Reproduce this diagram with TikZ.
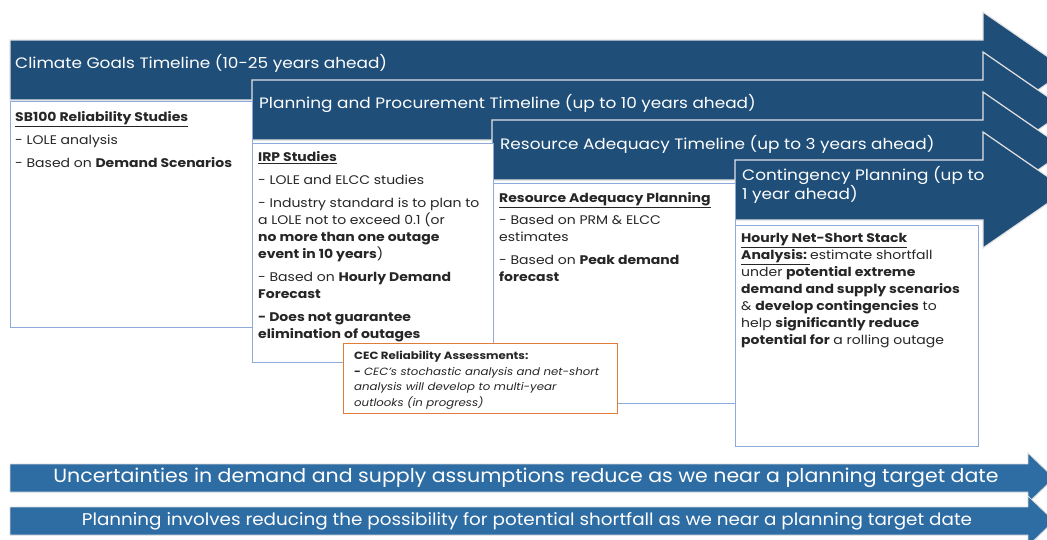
\documentclass[tikz,border=0pt]{standalone}
\usepackage{fontspec}
\setmainfont{Poppins}[FakeStretch=1.12]
\newfontfamily\narrowfont[FakeStretch=1.08]{Poppins}
\definecolor{navy}{HTML}{1F4E79}
\definecolor{steel}{HTML}{2E6CA4}
\definecolor{boxline}{HTML}{8EA9DB}
\definecolor{cecline}{HTML}{E07B39}
\definecolor{ink}{HTML}{262626}

\begin{document}
\begin{tikzpicture}
[x=1pt,y=-1pt,%
  timeline/.style={fill=navy,draw=white!78!gray,line width=1.2pt},%
  target/.style={fill=steel,draw=white!70!gray,line width=0.8pt},%
  headtext/.style={text=white,anchor=west,inner sep=0pt,align=left,font=\fontsize{15.1}{18}\selectfont},%
  studybox/.style={fill=white,draw=boxline,line width=1pt},%
  studytext/.style={text=ink,anchor=north west,inner sep=0pt,align=left,font=\fontsize{12.5}{17}\selectfont}]
\useasboundingbox (0,0) rectangle (1047,539);
\clip (0,0) rectangle (1047,539);

% timeline arrows, longest first
\foreach \l/\t in {10/40,252/80,492/120,735/160}
  \draw[timeline] (\l,\t) -- (983,\t) -- (983,\t-28) -- (1067,\t+30)
    -- (983,\t+88) -- (983,\t+60) -- (\l,\t+60) -- cycle;
\node[headtext] (climate) at (15,63) {Climate Goals Timeline (10-25 years ahead)};
\node[headtext] (procure) at (259,103) {Planning and Procurement Timeline (up to 10 years ahead)};
\node[headtext] (adequacy) at (500,144) {Resource Adequacy Timeline (up to 3 years ahead)};
\node[headtext] (contingency) at (742,185) {Contingency Planning (up to\\1 year ahead)};

% study boxes
\draw[studybox] (10,101) rectangle (252,327);
\draw[studybox] (252,143) rectangle (493,362);
\draw[studybox] (493,183) rectangle (735,403);
\draw[studybox] (735,225) rectangle (978,446);

\node[studytext] (sb100) at (15,111) {%
  \textbf{\underline{SB100 Reliability Studies}}\\[6pt]
  - LOLE analysis\\[6pt]
  - Based on \textbf{Demand Scenarios}};
\node[studytext] (irp) at (258,151) {%
  \textbf{\underline{IRP Studies}}\\[6pt]
  - LOLE and ELCC studies\\[6pt]
  - Industry standard is to plan to\\
  a LOLE not to exceed 0.1 (or\\
  \textbf{no more than one outage}\\
  \textbf{event in 10 years})\\[6pt]
  - Based on \textbf{Hourly Demand}\\
  \textbf{Forecast}\\[6pt]
  \textbf{- Does not guarantee}\\
  \textbf{elimination of outages}};
\node[studytext] (raplan) at (499,192) {%
  \textbf{\underline{Resource Adequacy Planning}}\\[5pt]
  - Based on PRM \& ELCC\\
  estimates\\[6pt]
  - Based on \textbf{Peak demand}\\
  \textbf{forecast}};
\node[studytext] (netshort) at (741,233) {%
  \textbf{\underline{Hourly Net-Short Stack}}\\
  \textbf{\underline{Analysis:\ }}estimate shortfall\\
  under \textbf{potential extreme}\\
  \textbf{demand and supply scenarios}\\
  \& \textbf{develop contingencies} to\\
  help \textbf{significantly reduce}\\
  \textbf{potential for} a rolling outage};

% CEC note on top
\draw[fill=white,draw=cecline,line width=1pt] (343,343) rectangle (617,413);
\node[studytext,font=\fontsize{10.5}{15.5}\selectfont] (cec) at (354,351) {%
  \textbf{CEC Reliability Assessments:}\\
  \textbf{-} \textit{CEC's stochastic analysis and net-short}\\
  \textit{analysis will develop to multi-year}\\
  \textit{outlooks (in progress)}};

% target date arrows
\draw[target] (10,464) -- (1028,464) -- (1028,453) -- (1054,478)
  -- (1028,503) -- (1028,492) -- (10,492) -- cycle;
\draw[target] (10,507) -- (1028,507) -- (1028,496) -- (1054,521)
  -- (1028,546) -- (1028,535) -- (10,535) -- cycle;
\node[text=white,font=\narrowfont\fontsize{19}{22}\selectfont] (uncertain) at (526,478)
  {Uncertainties in demand and supply assumptions reduce as we near a planning target date};
\node[text=white,font=\narrowfont\fontsize{17}{20}\selectfont] (shortfall) at (527,521)
  {Planning involves reducing the possibility for potential shortfall as we near a planning target date};
\end{tikzpicture}
\end{document}
